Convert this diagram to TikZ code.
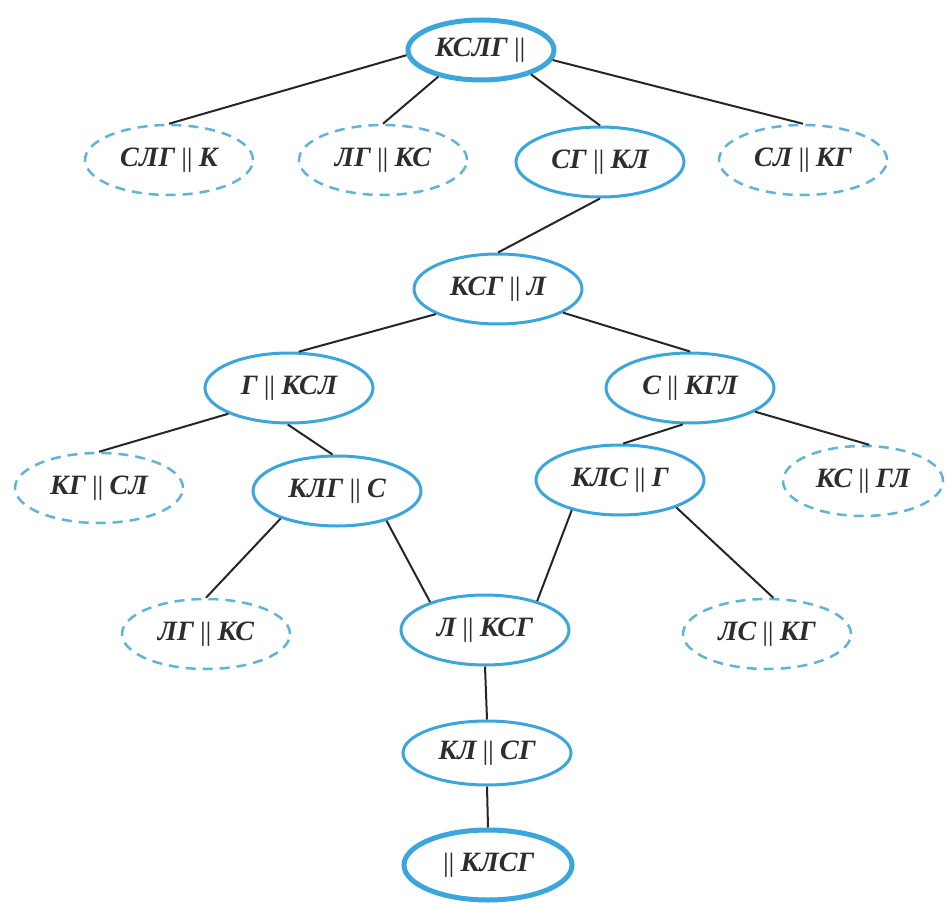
\documentclass[tikz,border=0pt]{standalone}
\usepackage{fontspec}
\setmainfont{Liberation Serif}
\usetikzlibrary{shapes.geometric}
\definecolor{nodeblue}{RGB}{58,166,219}
\definecolor{dashblue}{RGB}{96,180,214}
\definecolor{txt}{RGB}{45,45,45}
\newcommand{\dbar}{{\fontsize{31}{31}\selectfont\boldmath$\|$}}
\begin{document}
\begin{tikzpicture}[x=1pt,y=-1pt,
  st/.style={ellipse, draw=nodeblue, line width=3pt, minimum width=168pt, minimum height=70pt, inner sep=0pt, font=\fontsize{28}{32}\selectfont\bfseries\itshape, text=txt},
  dsh/.style={st, draw=dashblue, line width=2.5pt, dash pattern=on 10pt off 7pt},
  thk/.style={st, line width=5pt},
  edge/.style={line width=2pt, draw=black!85}]
\useasboundingbox (0,0) rectangle (945,904);
\node[thk, minimum width=146pt, minimum height=60pt] (top) at (481,50) {КСЛГ\,\dbar};
\node[dsh] (slg) at (169,160) {СЛГ\,\dbar\,К};
\node[dsh] (lga) at (383,160) {ЛГ\,\dbar\,КС};
\node[st] (sg) at (600,162) {СГ\,\dbar\,КЛ};
\node[dsh] (sl) at (803,160) {СЛ\,\dbar\,КГ};
\node[st] (ksg) at (498,289) {КСГ\,\dbar\,Л};
\node[st] (g) at (289,388) {Г\,\dbar\,КСЛ};
\node[st] (s) at (690,388) {С\,\dbar\,КГЛ};
\node[dsh] (kg) at (99,488) {КГ\,\dbar\,СЛ};
\node[st] (klg) at (337,491) {КЛГ\,\dbar\,С};
\node[st] (kls) at (620,480) {КЛС\,\dbar\,Г};
\node[dsh, minimum width=160pt] (ks) at (863,481) {КС\,\dbar\,ГЛ};
\node[dsh] (lgb) at (206,634) {ЛГ\,\dbar\,КС};
\node[st] (l) at (485,630) {Л\,\dbar\,КСГ};
\node[dsh] (ls) at (767,634) {ЛС\,\dbar\,КГ};
\node[st, minimum height=64pt] (kl) at (487,753) {КЛ\,\dbar\,СГ};
\node[thk] (fin) at (488,865) {\dbar\,КЛСГ};
\draw[edge] (top.184) -- (slg.north);
\draw[edge] (top.212) -- (lga.north);
\draw[edge] (top.334) -- (sg.north);
\draw[edge] (top.352) -- (sl.north);
\draw[edge] (sg.south) -- (ksg.north);
\draw[edge] (ksg.202) -- (g.75);
\draw[edge] (ksg.340) -- (s.north);
\draw[edge] (g.203) -- (kg.north);
\draw[edge] (g.268) -- (klg.97);
\draw[edge] (s.259) -- (kls.85);
\draw[edge] (s.340) -- (ks.80);
\draw[edge] (klg.206) -- (lgb.north);
\draw[edge] (klg.329) -- (l.153);
\draw[edge] (kls.212) -- (l.29);
\draw[edge] (kls.334) -- (ls.80);
\draw[edge] (l.south) -- (kl.north);
\draw[edge] (kl.south) -- (fin.north);
\end{tikzpicture}
\end{document}
